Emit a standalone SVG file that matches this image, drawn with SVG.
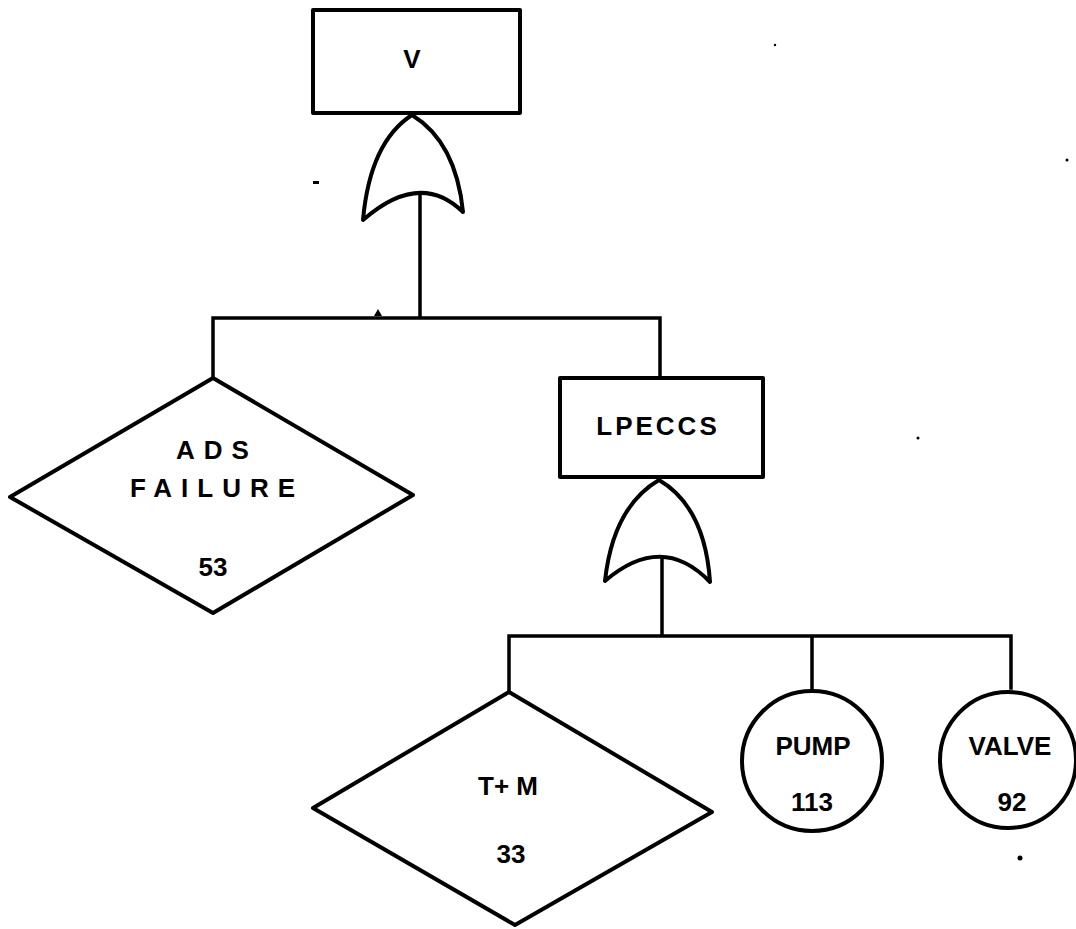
<svg xmlns="http://www.w3.org/2000/svg" width="1076" height="929" viewBox="0 0 1076 929">
  <style>
    .shape { fill: #fff; stroke: #000; stroke-width: 4; stroke-linejoin: round; }
    .gate { fill: #fff; stroke: #000; stroke-width: 4; stroke-linejoin: round; }
    .wire { fill: none; stroke: #000; stroke-width: 3.5; stroke-linecap: square; }
    .lbl { font-family: "Liberation Sans", Arial, sans-serif; font-weight: bold; font-size: 26px; fill: #000; text-anchor: middle; }
    .wide { letter-spacing: 9px; }
    .speck { fill: #000; }
  </style>
  <rect width="1076" height="929" fill="#fff"/>

  <!-- connectors -->
  <g id="connectors">
    <path class="wire" d="M420 193 V318 M213 378 V318 H660 V378"/>
    <path class="wire" d="M662 557 V636 M509 692 V636 H1011 V688 M812 636 V690"/>
    <path class="speck" d="M374 316 L378 309 L382 316 Z"/>
  </g>

  <!-- top event V with OR gate -->
  <g id="node-v">
    <rect class="shape" x="313" y="10" width="207" height="103"/>
    <text class="lbl" x="412" y="68">V</text>
  </g>
  <g id="gate-or-v">
    <path class="gate" d="M363 220 Q370 142 412 115 Q456 142 463 212 Q420 170 363 220 Z"/>
  </g>

  <!-- ADS failure (undeveloped event) -->
  <g id="node-ads">
    <polygon class="shape" points="213,378 413,495 213,613 10,497"/>
    <text class="lbl wide" x="217" y="459">ADS</text>
    <text class="lbl wide" x="217" y="497">FAILURE</text>
    <text class="lbl" x="213" y="576">53</text>
  </g>

  <!-- LPECCS intermediate event with OR gate -->
  <g id="node-lpeccs">
    <rect class="shape" x="560" y="378" width="203" height="99"/>
    <text class="lbl" x="658" y="435" style="letter-spacing:3px">LPECCS</text>
  </g>
  <g id="gate-or-lpeccs">
    <path class="gate" d="M605 581 Q613 507 659 480 Q705 507 710 582 Q662 532 605 581 Z"/>
  </g>

  <!-- T+M (undeveloped event) -->
  <g id="node-tm">
    <polygon class="shape" points="509,692 712,812 515,925 313,808"/>
    <text class="lbl" x="508" y="795">T+ M</text>
    <text class="lbl" x="511" y="863">33</text>
  </g>

  <!-- basic events -->
  <g id="node-pump">
    <circle class="shape" cx="812" cy="761" r="70"/>
    <text class="lbl" x="813" y="755">PUMP</text>
    <text class="lbl" x="812" y="811">113</text>
  </g>
  <g id="node-valve">
    <circle class="shape" cx="1008" cy="760" r="68"/>
    <text class="lbl" x="1010" y="755">VALVE</text>
    <text class="lbl" x="1012" y="811">92</text>
  </g>

  <!-- specks -->
  <g id="specks">
    <rect class="speck" x="313" y="181" width="6" height="3"/>
    <circle class="speck" cx="1020" cy="858" r="2.5"/>
    <circle class="speck" cx="918" cy="438" r="1.5"/>
    <circle class="speck" cx="1067" cy="160" r="1.5"/>
    <circle class="speck" cx="775" cy="45" r="1.2"/>
  </g>
</svg>
